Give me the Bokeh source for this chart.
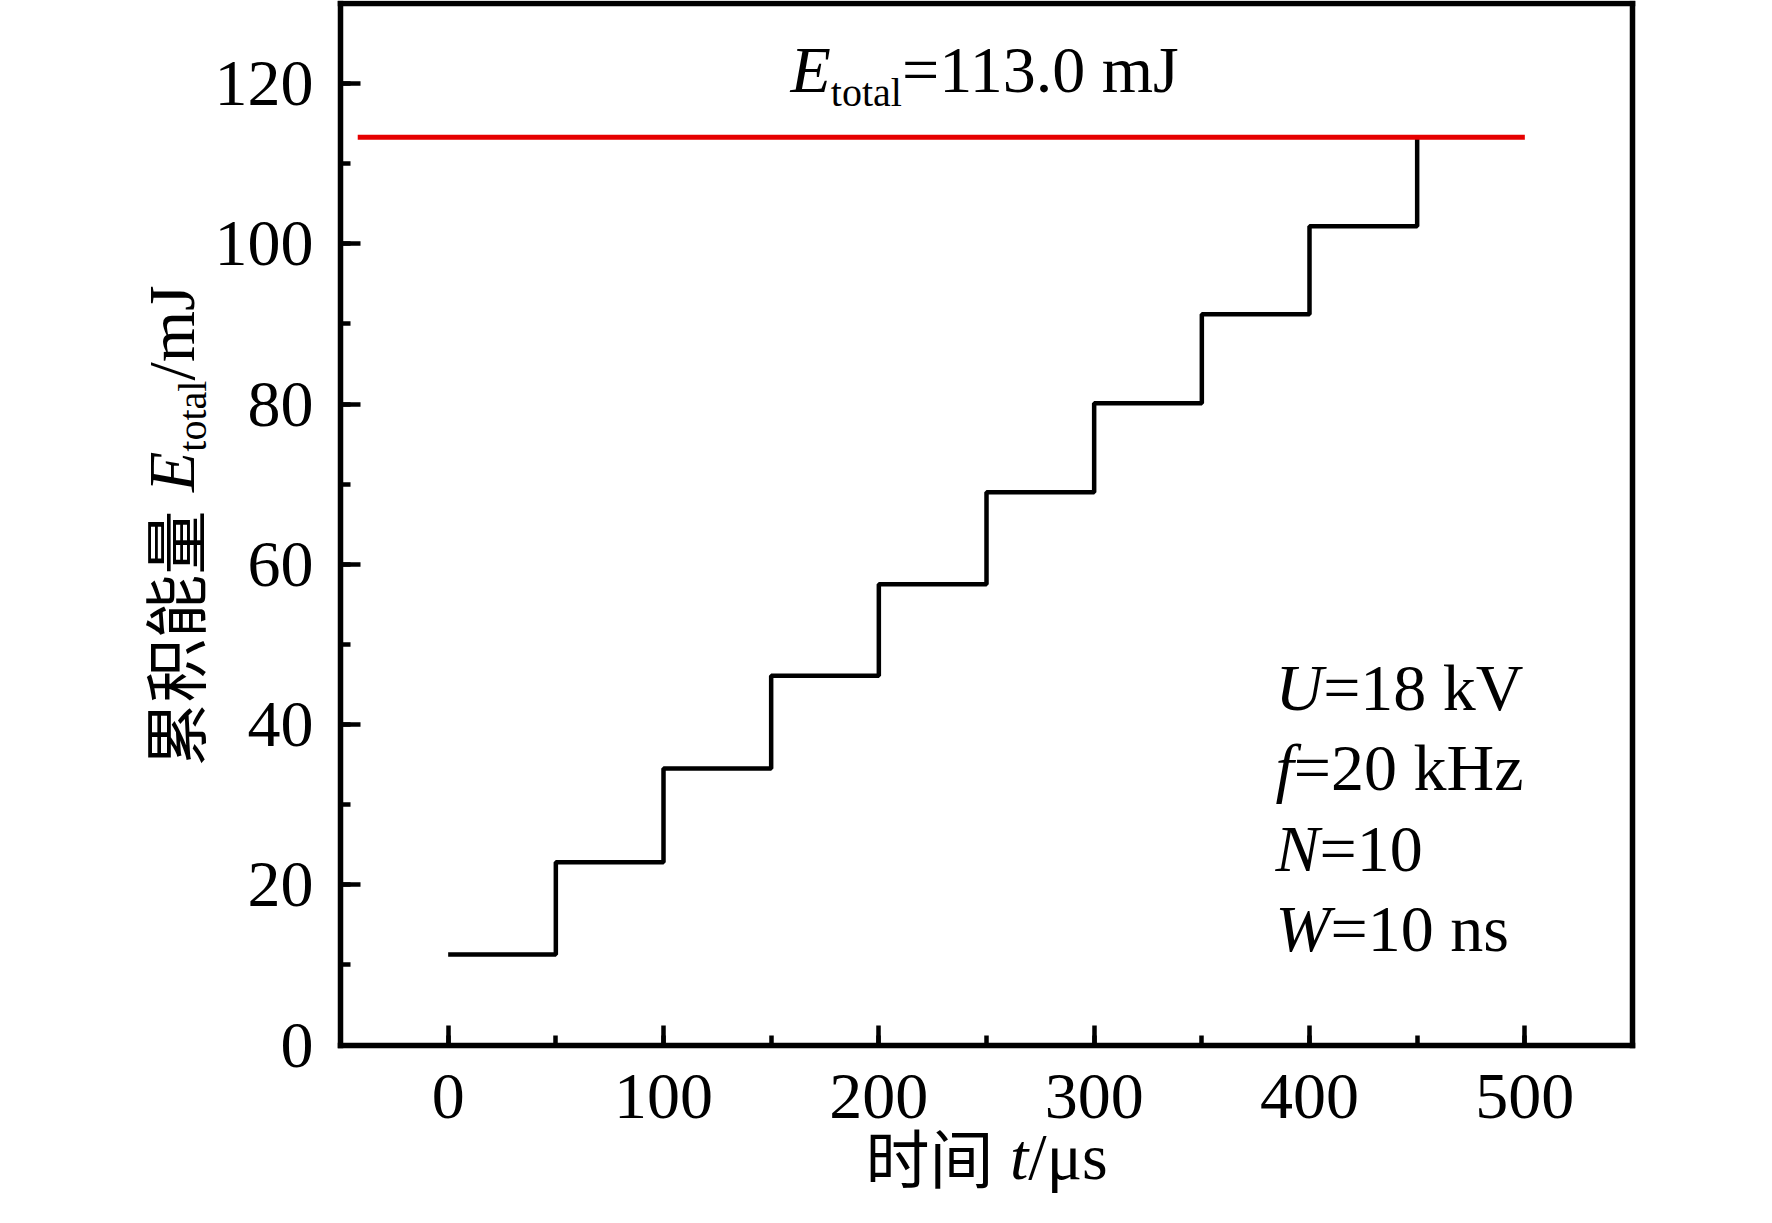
import math
from bokeh.plotting import figure
from bokeh.models import Range1d, SingleIntervalTicker, FixedTicker, Label, LinearAxis
from bokeh.embed import file_html
from bokeh.resources import INLINE

# ---------------- data ----------------
t_us = [0, 50, 100, 150, 200, 250, 300, 350, 400, 450]          # pulse times (µs)
e_cum = [11.3, 22.8, 34.5, 46.1, 57.5, 69.0, 80.1, 91.2, 102.2, 113.3]  # cumulative energy (mJ)
e_total = 113.3
e_total_text = "113.0"
ref_line_x = [-42, 500]
x_axis_bounds = (-50, 550)
y_axis_bounds = (0, 130)
params = [("U", "=18 kV"), ("f", "=20 kHz"), ("N", "=10"), ("W", "=10 ns")]

# ---------------- layout (pixels) ----------------
W, H = 1756, 1207
FL, FR, FT, FB = 340, 1632, 3, 1044.5   # box of the axes

SERIF = "Liberation Serif"
CJK = "Noto Sans CJK SC"
FS = 66
SUB = 40
CJK_FS = 64
K_BASE = 0.379   # empirical anchor-to-baseline offset (em)

sx_unit = (FR - FL) / (x_axis_bounds[1] - x_axis_bounds[0])
sy_unit = (FB - FT) / (y_axis_bounds[1] - y_axis_bounds[0])
x_start = x_axis_bounds[0] - FL / sx_unit
x_end = x_axis_bounds[1] + (W - FR) / sx_unit
y_end = y_axis_bounds[1] + FT / sy_unit
y_start = y_axis_bounds[0] - (H - FB) / sy_unit

p = figure(width=W, height=H, output_backend="svg", toolbar_location=None,
           x_range=Range1d(x_start, x_end), y_range=Range1d(y_start, y_end),
           min_border=0, min_border_left=0, min_border_right=0,
           min_border_top=0, min_border_bottom=0)
p.background_fill_color = "white"
p.border_fill_color = "white"
p.grid.visible = False
p.outline_line_color = None

AX_W = 5.5


def style_axis(ax):
    ax.axis_line_color = "black"
    ax.axis_line_width = AX_W
    ax.axis_line_cap = "square"
    ax.major_tick_line_color = "black"
    ax.minor_tick_line_color = "black"
    ax.major_tick_line_width = 4.5
    ax.minor_tick_line_width = 4.5
    ax.major_tick_in = 20
    ax.major_tick_out = 0
    ax.minor_tick_in = 10
    ax.minor_tick_out = 0
    ax.major_label_text_font = SERIF
    ax.major_label_text_font_size = f"{FS}px"
    ax.major_label_text_color = "black"


xa = p.xaxis[0]
ya = p.yaxis[0]
style_axis(xa)
style_axis(ya)
xa.ticker = SingleIntervalTicker(interval=100, num_minor_ticks=2)
ya.ticker = SingleIntervalTicker(interval=20, num_minor_ticks=2)
xa.fixed_location = y_axis_bounds[0]
ya.fixed_location = x_axis_bounds[0]
xa.bounds = x_axis_bounds
ya.bounds = y_axis_bounds
xa.major_label_standoff = 30
ya.major_label_standoff = 27

top = LinearAxis(fixed_location=y_axis_bounds[1], bounds=x_axis_bounds,
                 ticker=FixedTicker(ticks=[], minor_ticks=[]))
right = LinearAxis(fixed_location=x_axis_bounds[1], bounds=y_axis_bounds,
                   ticker=FixedTicker(ticks=[], minor_ticks=[]))
for ax in (top, right):
    style_axis(ax)
    ax.major_tick_line_color = None
    ax.minor_tick_line_color = None
    ax.major_label_text_color = None
p.add_layout(top, "above")
p.add_layout(right, "right")

p.step(t_us, e_cum, mode="after", line_color="black", line_width=4.5)
p.line(ref_line_x, [e_total, e_total], line_color="#e60000", line_width=5)

# ---------------- rich text helpers ----------------
W_REG = {" ": 0.25, "=": 0.564, ".": 0.25, "m": 0.778, "J": 0.389, "k": 0.5,
         "V": 0.722, "H": 0.722, "z": 0.444, "n": 0.5, "s": 0.389, "t": 0.278,
         "o": 0.5, "a": 0.444, "l": 0.278, "/": 0.278, "μ": 0.576}
W_IT = {"E": 0.611, "U": 0.722, "f": 0.278, "N": 0.667, "W": 0.833, "t": 0.278}


def run_width(text, size, kind):
    if kind == "cjk":
        return len(text) * size
    table = W_IT if kind == "it" else W_REG
    return sum(table.get(ch, 0.5) for ch in text) * size


def dx(px):
    return x_start + px / W * (x_end - x_start)


def dy(py):
    return y_end - py / H * (y_end - y_start)


def place_runs(runs, x0, y0, angle=0.0):
    """x0, y0: start of the text and its baseline, in pixels."""
    pos = 0.0
    for text, kind, size, shift in runs:
        corr = K_BASE * size
        if angle == 0:
            cx, cy = x0 + pos, y0 + shift - corr
        else:
            cx, cy = x0 + shift - corr, y0 - pos
        p.add_layout(Label(
            x=dx(cx), y=dy(cy), text=text, angle=angle,
            text_font=CJK if kind == "cjk" else SERIF,
            text_font_style="italic" if kind == "it" else "normal",
            text_font_size=f"{size}px", text_color="black",
            text_align="left", text_baseline="alphabetic"))
        pos += run_width(text, size, kind)


# annotation above red line
place_runs([("E", "it", FS, 0), ("total", "reg", SUB, 13),
            ("=" + e_total_text + " mJ", "reg", FS, 0)], 790, 94)

# parameter block
for i, (sym, rest) in enumerate(params):
    place_runs([(sym, "it", FS, 0), (rest, "reg", FS, 0)], 1275, 712 + i * 80.5)

# x axis title
place_runs([("时间", "cjk", CJK_FS, -2), (" ", "reg", FS, 0), ("t", "it", FS, 0),
            ("/μs", "reg", FS, 0)], 865, 1181)

# y axis title (rotated)
place_runs([("累积能量", "cjk", CJK_FS, 0), (" ", "reg", FS + 8, 0), ("E", "it", FS, 0),
            ("total", "reg", SUB, 11), ("/mJ", "reg", FS, 0)], 196, 766,
           angle=math.pi / 2)

open("out.html", "w").write(file_html(p, INLINE))
